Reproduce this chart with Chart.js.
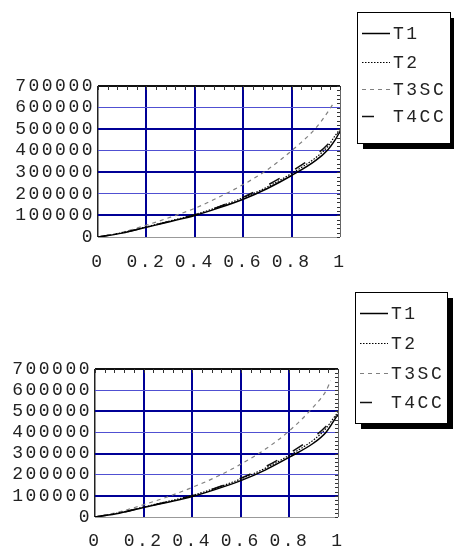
<!DOCTYPE html>
<html>
<head>
<meta charset="utf-8">
<script src="https://cdn.jsdelivr.net/npm/chart.js@4.4.1/dist/chart.umd.min.js"></script>
<style>
  html, body { margin: 0; padding: 0; background: #fff; }
  #wrap { position: relative; width: 454px; height: 557px; overflow: hidden; }
  .panel { position: absolute; left: 0; width: 454px; }
  #panelTop    { top: 0;     height: 278px; }
  #panelBottom { top: 278px; height: 279px; }
</style>
</head>
<body>
<div id="wrap">
  <div class="panel" id="panelTop"><canvas id="chartTop"></canvas></div>
  <div class="panel" id="panelBottom"><canvas id="chartBottom"></canvas></div>
</div>
<script>
// ── DATOS ───────────────────────────────────────────────────────
const seriesNames = ['T1', 'T2', 'T3SC', 'T4CC']
const xValues     = [0, 0.1, 0.2, 0.3, 0.4, 0.5, 0.6, 0.7, 0.8, 0.9, 0.95, 0.98, 1]
const xValuesT3   = [0, 0.1, 0.2, 0.3, 0.4, 0.5, 0.6, 0.7, 0.8, 0.9, 0.95, 0.97]
const xTicks      = [0, 0.2, 0.4, 0.6, 0.8, 1]
const xTickLabels = ['0', '0.2', '0.4', '0.6', '0.8', '1']
const yTicks      = [0, 100000, 200000, 300000, 400000, 500000, 600000, 700000]
const yTickLabels = ['0', '100000', '200000', '300000', '400000', '500000', '600000', '700000']

// gráfico superior
const topT1   = [0, 18000, 45000, 72000, 100000, 135000, 175000, 225000, 285000, 355000, 405000, 450000, 490000]
const topT2   = [0, 20000, 47000, 75000, 104000, 140000, 182000, 232000, 295000, 368000, 420000, 470000, 500000]
const topT3SC = [0, 22000, 55000, 92000, 133000, 185000, 243000, 312000, 400000, 505000, 580000, 615000]
const topT4CC = [0, 19000, 46000, 74000, 103000, 140000, 185000, 240000, 305000, 380000, 430000, 470000, 490000]

// gráfico inferior
const botT1   = [0, 18000, 45000, 70000, 97000, 132000, 172000, 222000, 283000, 350000, 400000, 450000, 485000]
const botT2   = [0, 20000, 47000, 74000, 102000, 138000, 180000, 230000, 292000, 365000, 418000, 465000, 495000]
const botT3SC = [0, 24000, 58000, 96000, 140000, 190000, 250000, 320000, 408000, 522000, 595000, 645000]
const botT4CC = [0, 19000, 46000, 73000, 101000, 138000, 183000, 237000, 302000, 378000, 428000, 468000, 488000]

// ── ESTILOS ─────────────────────────────────────────────────────
const FONT = { family: '"Liberation Mono", "DejaVu Sans Mono", monospace', size: 18 }
const TEXT_COLOR = '#222'
const BLUE_DARK  = 'rgb(0,0,150)'
const BLUE_LIGHT = 'rgb(80,80,210)'
const ESPACIO = '2.5px'

const lineStyles = [
    { borderColor: '#000',    borderWidth: 1.5, borderDash: [] },
    { borderColor: '#000',    borderWidth: 1.2, borderDash: [1.5, 1.5] },
    { borderColor: '#808080', borderWidth: 1.2, borderDash: [4, 4] },
    { borderColor: '#111',    borderWidth: 1.5, borderDash: [12, 18] }
]

function pares(xs, ys) {
    return ys.map((v, i) => ({ x: xs[i], y: v }))
}

function armarDatasets(t1, t2, t3, t4) {
    const series = [pares(xValues, t1), pares(xValues, t2), pares(xValuesT3, t3), pares(xValues, t4)]
    return series.map((d, i) => ({
        label: seriesNames[i],
        data: d,
        ...lineStyles[i],
        pointRadius: 0,
        fill: false,
        cubicInterpolationMode: 'monotone'
    }))
}

// ── PLUGINS ─────────────────────────────────────────────────────
const espaciado = {
    id: 'espaciado',
    beforeLayout(chart) { chart.ctx.letterSpacing = ESPACIO },
    beforeDraw(chart)   { chart.ctx.letterSpacing = ESPACIO }
}

// marcas menores hacia dentro, arriba y a la derecha
const marcasMarco = {
    id: 'marcasMarco',
    afterDatasetsDraw(chart, args, opts) {
        const { ctx, chartArea: a, scales: { x, y } } = chart
        ctx.save()
        ctx.strokeStyle = '#333'
        ctx.lineWidth = 1
        ctx.setLineDash([])
        ctx.beginPath()
        for (let v = 0; v <= x.max + 1e-9; v += opts.stepX) {
            const px = Math.round(x.getPixelForValue(v)) + 0.5
            ctx.moveTo(px, a.top)
            ctx.lineTo(px, a.top + 4)
        }
        for (let v = 0; v <= y.max; v += opts.stepY) {
            const py = Math.round(y.getPixelForValue(v)) + 0.5
            ctx.moveTo(a.right, py)
            ctx.lineTo(a.right - 3, py)
        }
        ctx.stroke()
        ctx.restore()
    }
}

// leyenda en caja con sombra
const leyendaCaja = {
    id: 'leyendaCaja',
    afterDraw(chart, args, o) {
        const ctx = chart.ctx
        ctx.save()
        ctx.fillStyle = '#000'
        ctx.fillRect(o.x + o.shadow, o.y + o.shadow, o.w, o.h)
        ctx.fillStyle = '#fff'
        ctx.fillRect(o.x, o.y, o.w, o.h)
        ctx.strokeStyle = '#000'
        ctx.lineWidth = 1
        ctx.strokeRect(o.x + 0.5, o.y + 0.5, o.w, o.h)
        ctx.letterSpacing = ESPACIO
        ctx.font = `${FONT.size}px ${FONT.family}`
        ctx.textBaseline = 'middle'
        chart.data.datasets.forEach((ds, i) => {
            const ly = Math.round(o.rows[i]) + 0.5
            ctx.beginPath()
            ctx.setLineDash(ds.borderDash)
            ctx.strokeStyle = ds.borderColor
            ctx.lineWidth = ds.borderWidth
            ctx.moveTo(o.lineX, ly)
            ctx.lineTo(o.lineX + o.lineW, ly)
            ctx.stroke()
            ctx.setLineDash([])
            ctx.fillStyle = TEXT_COLOR
            ctx.fillText(ds.label, o.textX, ly + 1)
        })
        ctx.restore()
    }
}

// ── CREAR GRÁFICO ───────────────────────────────────────────────
function crearGrafico(canvasId, datasets, area, leyenda) {
    return new Chart(document.getElementById(canvasId).getContext('2d'), {
        type: 'line',
        data: { datasets },
        plugins: [espaciado, marcasMarco, leyendaCaja],
        options: {
            responsive: true,
            maintainAspectRatio: false,
            animation: false,
            layout: { padding: { left: 0, top: area.top, right: area.right, bottom: 0 } },
            plugins: {
                legend: { display: false },
                tooltip: { enabled: false },
                marcasMarco: { stepX: 0.04, stepY: 20000 },
                leyendaCaja: leyenda
            },
            scales: {
                x: {
                    type: 'linear',
                    min: 0,
                    max: 1,
                    afterBuildTicks: s => { s.ticks = xTicks.map(v => ({ value: v })) },
                    afterFit: s => { s.height = area.xHeight },
                    border: { display: false },
                    grid: {
                        drawTicks: false,
                        color: c => c.tick.value === 0 ? '#222' : c.tick.value === 1 ? '#666' : BLUE_DARK,
                        lineWidth: c => c.tick.value === 0 ? 1.5 : c.tick.value === 1 ? 1 : 2
                    },
                    ticks: {
                        autoSkip: false,
                        maxRotation: 0,
                        padding: area.xPad,
                        color: TEXT_COLOR,
                        font: FONT,
                        callback: (v, i) => xTickLabels[i]
                    }
                },
                y: {
                    type: 'linear',
                    min: 0,
                    max: 700000,
                    afterBuildTicks: s => { s.ticks = yTicks.map(v => ({ value: v })) },
                    afterFit: s => { s.width = area.left },
                    border: { display: false },
                    grid: {
                        drawTicks: false,
                        color: c => {
                            const v = c.tick.value
                            if (v === 0) return '#999'
                            if (v === 700000) return '#111'
                            return v % 200000 === 0 ? BLUE_LIGHT : BLUE_DARK
                        },
                        lineWidth: c => {
                            const v = c.tick.value
                            if (v === 0) return 1
                            if (v === 700000) return 2
                            return v % 200000 === 0 ? 1 : 2
                        }
                    },
                    ticks: {
                        autoSkip: false,
                        padding: 3,
                        color: TEXT_COLOR,
                        font: FONT,
                        callback: (v, i) => yTickLabels[i]
                    }
                }
            }
        }
    })
}

const chartTop = crearGrafico('chartTop',
    armarDatasets(topT1, topT2, topT3SC, topT4CC),
    { left: 98, right: 114, top: 86, xHeight: 41, xPad: 14 },
    { x: 357, y: 12, w: 93, h: 131, shadow: 6, rows: [33, 62, 89, 116], lineX: 362, lineW: 28, textX: 393 })

const chartBottom = crearGrafico('chartBottom',
    armarDatasets(botT1, botT2, botT3SC, botT4CC),
    { left: 95, right: 116, top: 91, xHeight: 40, xPad: 13 },
    { x: 355, y: 14, w: 92, h: 131, shadow: 6, rows: [35, 65, 95, 124], lineX: 360, lineW: 28, textX: 391 })
</script>
</body>
</html>
